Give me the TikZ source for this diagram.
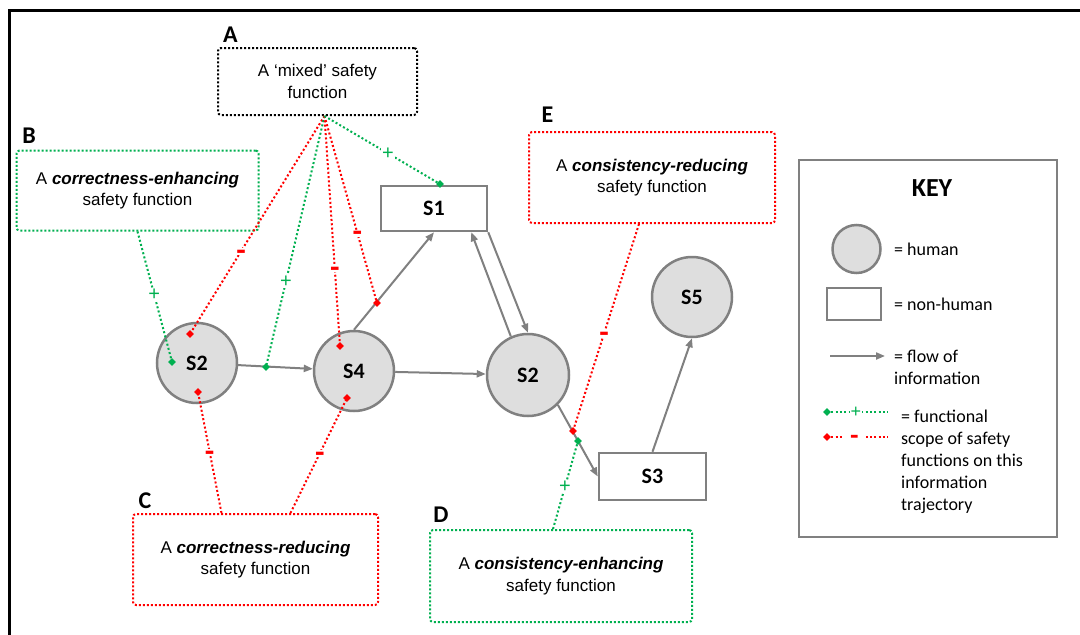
\documentclass[tikz,border=0pt]{standalone}
\usepackage{fontspec}
\setmainfont{Liberation Sans}
\newfontfamily\calibri{Carlito}
\usetikzlibrary{shapes.geometric,arrows.meta,calc}
\definecolor{sfgreen}{RGB}{0,176,80}
\definecolor{sfred}{RGB}{255,0,0}
\definecolor{edgegray}{RGB}{128,128,128}
\definecolor{humanfill}{RGB}{222,222,222}
\tikzset{
  frame/.style={draw=black, line width=3pt},
  sfbox/.style={rectangle, rounded corners=3pt, line width=2pt,
    dash pattern=on 2pt off 2pt, align=center, inner sep=0pt,
    font=\fontsize{17}{21.5}\selectfont},
  greenbox/.style={sfbox, draw=sfgreen},
  redbox/.style={sfbox, draw=sfred},
  blackbox/.style={sfbox, draw=black},
  letter/.style={font=\calibri\bfseries\fontsize{24}{24}\selectfont},
  human/.style={circle, draw=edgegray, fill=humanfill, line width=2.5pt,
    inner sep=0pt, font=\calibri\bfseries\fontsize{22}{22}\selectfont},
  machine/.style={rectangle, draw=edgegray, fill=white, line width=2.5pt,
    inner sep=0pt, font=\calibri\bfseries\fontsize{22}{22}\selectfont},
  flow/.style={draw=edgegray, line width=2pt, -{Triangle[length=9pt,width=7pt]}},
  gscope/.style={draw=sfgreen, line width=2pt, dash pattern=on 2pt off 2.3pt},
  rscope/.style={draw=sfred, line width=2pt, dash pattern=on 2pt off 2.3pt},
  gmark/.style={diamond, fill=sfgreen, inner sep=0pt, minimum size=8pt},
  rmark/.style={diamond, fill=sfred, inner sep=0pt, minimum size=8pt},
  gsign/.style={fill=white, inner xsep=1pt, inner ysep=0.5pt, text=sfgreen,
    font=\fontsize{20}{20}\selectfont},
  rsign/.style={fill=white, inner xsep=1.5pt, inner ysep=2pt, text=sfred,
    text height=1.5pt, text depth=1.5pt,
    font=\bfseries\fontsize{18}{18}\selectfont},
  keytext/.style={anchor=west, align=left, inner sep=0pt,
    font=\calibri\fontsize{18}{22}\selectfont},
}
% a short, heavy minus whose bar sits on the baseline
\newcommand{\minussign}{\raisebox{-0.495em}{\scalebox{0.85}[1.8]{–}}}
\begin{document}
\begin{tikzpicture}[x=1pt,y=-1pt]
\useasboundingbox (0,0) rectangle (1080,635);
\fill[white] (0,0) rectangle (1080,635);
\draw[frame] (1080,10) -- (9,10) -- (9,635);

% safety function boxes
\node[blackbox, minimum width=199pt, minimum height=67pt] (A) at (317.5,81.5)
  {A ‘mixed’ safety\\function};
\node[greenbox, minimum width=242pt, minimum height=80pt] (B) at (137.5,190.5)
  {A \textbf{\textit{correctness-enhancing}}\\safety function};
\node[redbox, minimum width=245pt, minimum height=91pt] (C) at (255.5,559.5)
  {A \textbf{\textit{correctness-reducing}}\\safety function};
\node[greenbox, minimum width=262pt, minimum height=92pt] (D) at (561,576)
  {A \textbf{\textit{consistency-enhancing}}\\safety function};
\node[redbox, minimum width=246pt, minimum height=91pt] (E) at (652,177.5)
  {A \textbf{\textit{consistency-reducing}}\\safety function};

\node[letter] (lA) at (230.5,34.5) {A};
\node[letter] (lB) at (29,136) {B};
\node[letter] (lC) at (145,500.5) {C};
\node[letter] (lD) at (441,515) {D};
\node[letter] (lE) at (547.5,115) {E};

% agents
\node[human, minimum size=80pt] (S2a) at (197,363) {S2};
\node[human, minimum size=80pt] (S4) at (354,371) {S4};
\node[human, minimum size=82pt] (S2b) at (528,375) {S2};
\node[human, minimum size=80pt] (S5) at (692,297) {S5};
\node[machine, minimum width=106pt, minimum height=45pt] (S1) at (434,208.5) {S1};
\node[machine, minimum width=107pt, minimum height=47pt] (S3) at (652.5,476.5) {S3};

% information flows
\draw[flow] (S2a) -- (S4);
\draw[flow] (S4) -- (S2b);
\draw[flow] (S4.north) -- (S1.south);
\draw[flow] (S1.south east) -- (S2b.north);
\draw[flow] (S2b.114) -- ([xshift=-17pt]S1.south east);
\draw[flow] (S2b.-45) -- (S3.west);
\draw[flow] (S3.north) -- (S5.south);

% scope end points
\coordinate (aO) at ($(A.south)+(7,0)$);
\coordinate (c1) at ($(C.north)+(-34,0)$);
\coordinate (c2) at ($(C.north)+(35,0)$);
\coordinate (dO) at ($(D.north)+(-8,0)$);
\coordinate (eO) at ($(E.south)+(-13,0)$);
\coordinate (pB) at (172,362);
\coordinate (pA1) at (190,334);
\coordinate (pA2) at (266,367);
\coordinate (pA3) at (340,346);
\coordinate (pA4) at (377,303);
\coordinate (pA5) at (440,184);
\coordinate (pC1) at (198,392);
\coordinate (pC2) at (347,398);
\coordinate (pE) at (573,431);
\coordinate (pD) at (578,441);

% functional scopes
\draw[rscope] (aO) -- node[rsign, pos=.62] {\minussign} (pA1);
\draw[gscope] (aO) -- node[gsign, pos=.66] {+} (pA2);
\draw[rscope] (aO) -- node[rsign, pos=.665] {\minussign} (pA3);
\draw[rscope] (aO) -- node[rsign, pos=.626] {\minussign} (pA4);
\draw[gscope] (aO) -- node[gsign, pos=.55] {+} (pA5);
\draw[gscope] (B.south) -- node[gsign, pos=.485] {+} (pB);
\draw[rscope] (c1) -- node[rsign, pos=.5] {\minussign} (pC1);
\draw[rscope] (c2) -- node[rsign, pos=.52] {\minussign} (pC2);
\draw[rscope] (eO) -- node[rsign, pos=.53] {\minussign} (pE);
\draw[gscope] (dO) -- node[gsign, pos=.48] {+} (pD);

\foreach \p in {pB,pA2,pA5,pD} \node[gmark] at (\p) {};
\foreach \p in {pA1,pA3,pA4,pC1,pC2,pE} \node[rmark] at (\p) {};

% key
\node[draw=edgegray, line width=2.5pt, minimum width=258pt, minimum height=377pt,
  inner sep=0pt] (key) at (928,348.5) {};
\node[font=\calibri\bfseries\fontsize{26}{26}\selectfont] (keyT) at (932,188.5) {KEY};
\node[human, minimum size=48pt] (kH) at (856.5,249) {};
\node[keytext] (kHt) at (894,249) {= human};
\node[machine, minimum width=54pt, minimum height=32pt] (kM) at (854,304) {};
\node[keytext] (kMt) at (894,304) {= non-human};
\coordinate (kf1) at (830,356);
\coordinate (kf2) at (885,356);
\draw[flow] (kf1) -- (kf2);
\node[keytext] (kFt) at (894,367) {= flow of\\information};
\coordinate (kg1) at (827,412);
\coordinate (kg2) at (888,412);
\coordinate (kr1) at (827,437);
\coordinate (kr2) at (888,437);
\draw[gscope] (kg1) -- node[gsign, pos=.475, font=\fontsize{18}{18}\selectfont] {+} (kg2);
\draw[rscope] (kr1) -- node[rsign, pos=.45, minimum width=24pt, inner ysep=1pt,
  font=\bfseries\fontsize{16}{16}\selectfont] {\minussign} (kr2);
\node[gmark] at (kg1) {};
\node[rmark] at (kr1) {};
\node[keytext] (kSt) at (901,462)
  {= functional\\scope of safety\\functions on this\\information\\trajectory};
\end{tikzpicture}
\end{document}
